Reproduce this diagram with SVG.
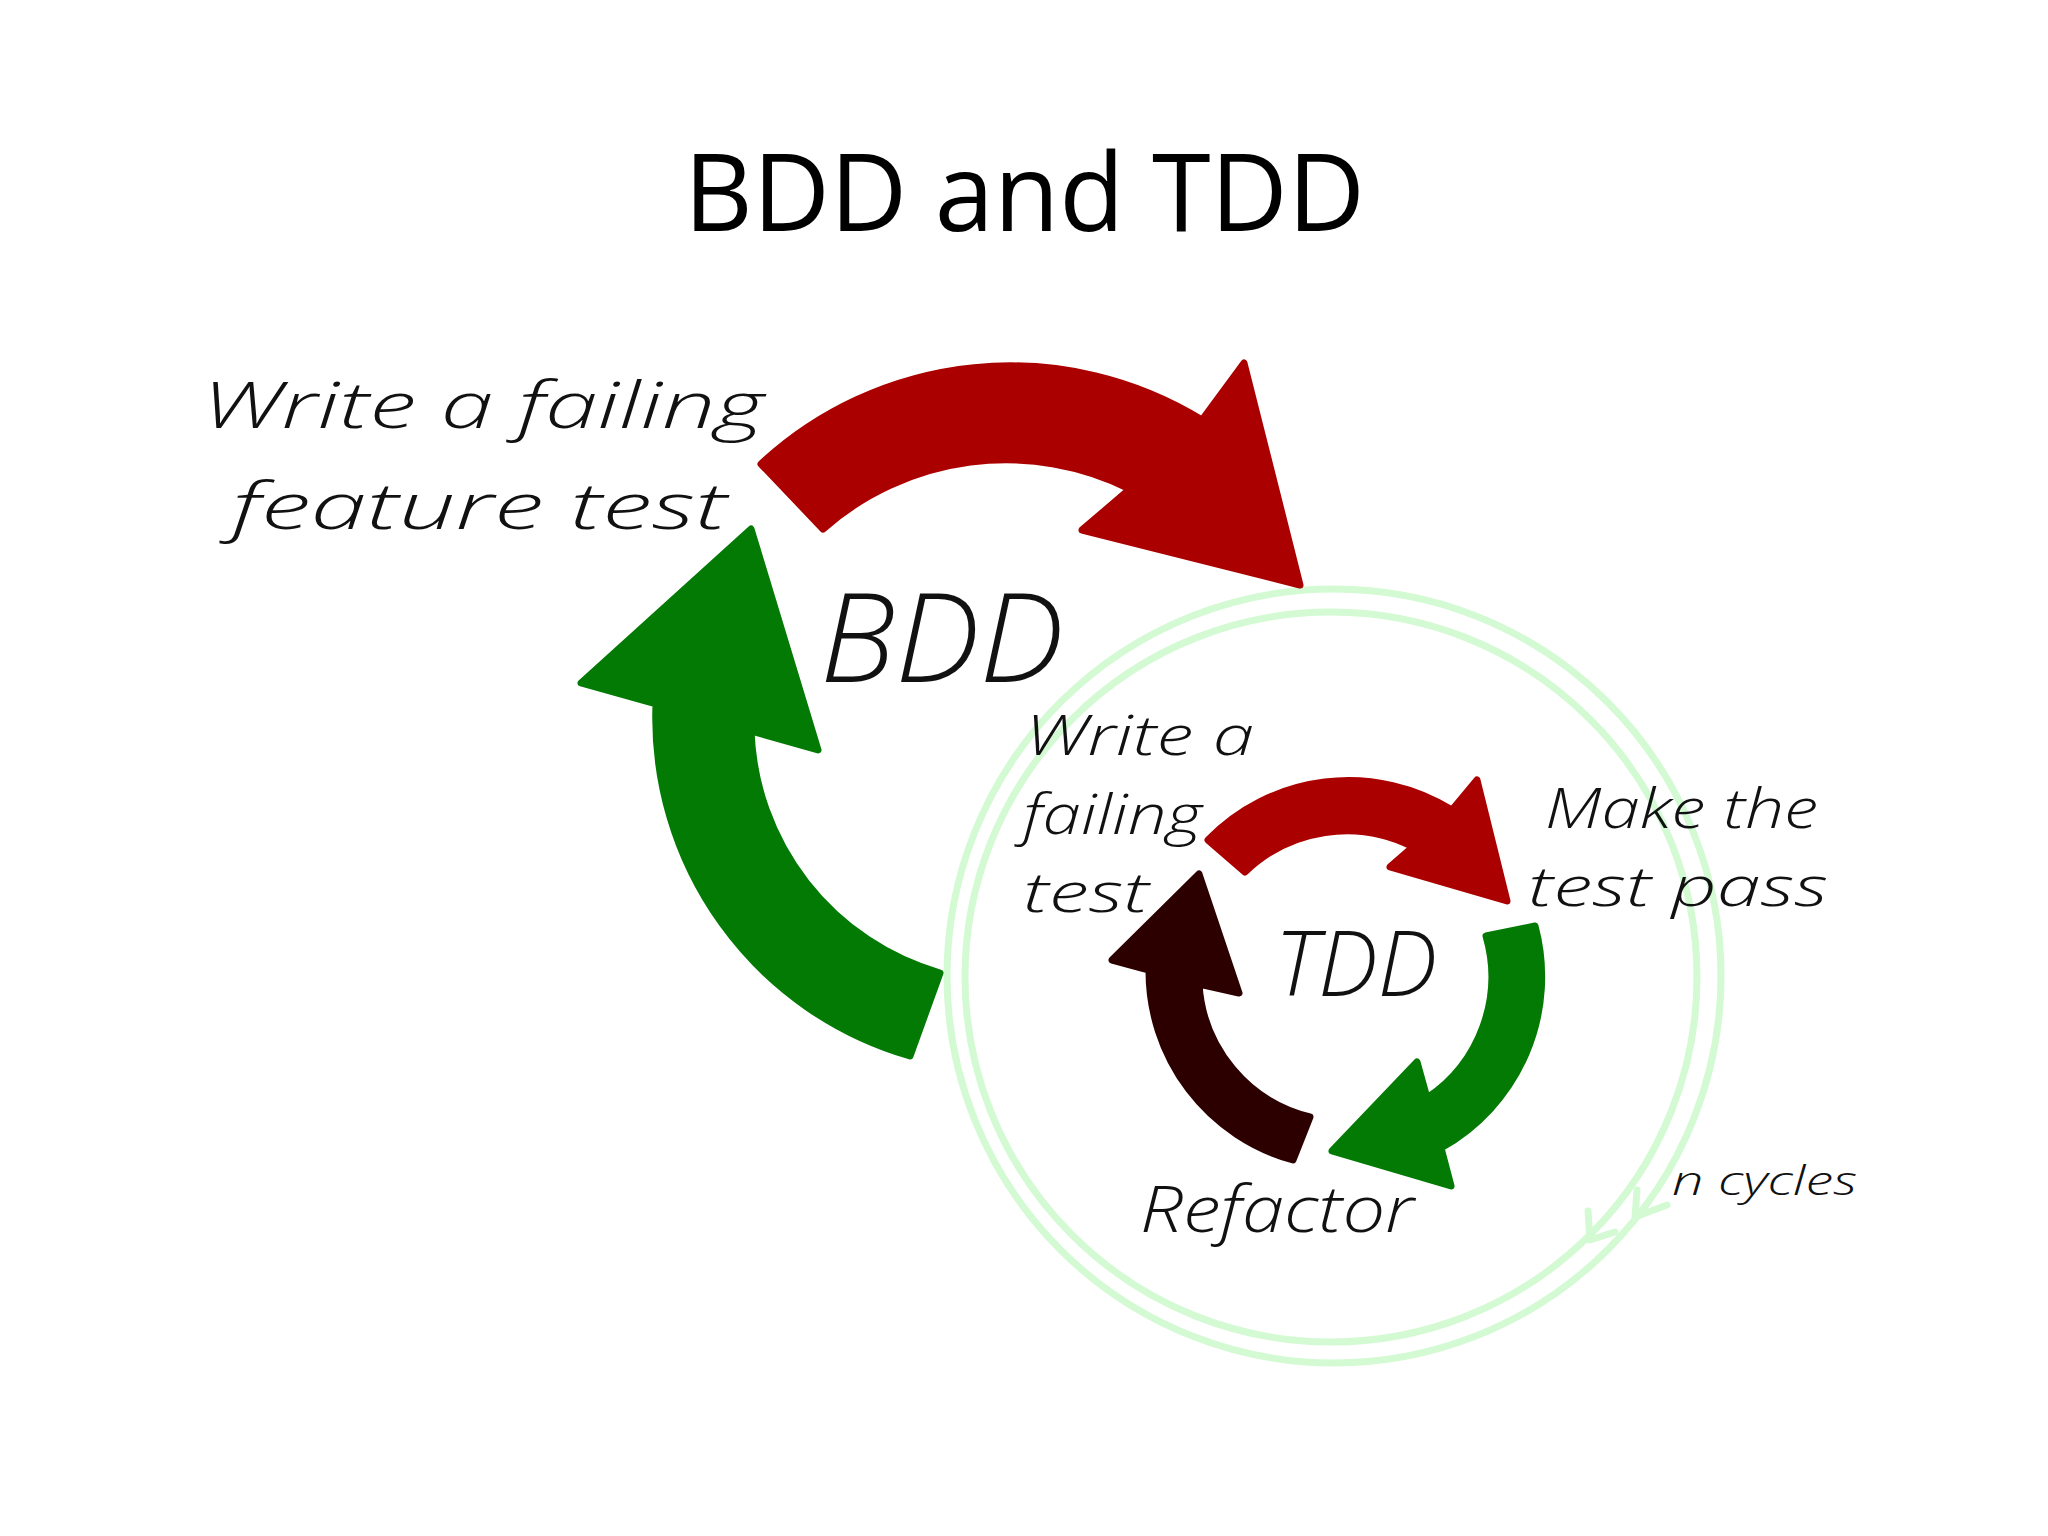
<svg xmlns="http://www.w3.org/2000/svg" width="2048" height="1536" viewBox="0 0 2048 1536">
  <style>
    .title { font-family: "Open Sans", "Liberation Sans", sans-serif; font-size: 108px; fill: #000; }
    .hand { font-family: "Open Sans", "DejaVu Sans", sans-serif; font-style: italic; font-weight: 300; fill: #111; }
    .red { fill: #aa0000; stroke: #aa0000; stroke-width: 7; stroke-linejoin: round; }
    .green { fill: #037a03; stroke: #037a03; stroke-width: 7; stroke-linejoin: round; }
    .brown { fill: #2d0000; stroke: #2d0000; stroke-width: 7; stroke-linejoin: round; }
    .ring { fill: none; stroke: #d3fad3; stroke-width: 7; stroke-linecap: round; stroke-linejoin: round; }
  </style>
  <rect width="2048" height="1536" fill="#ffffff"/>

  <g id="title">
    <text class="title" x="684" y="231" textLength="681" lengthAdjust="spacingAndGlyphs">BDD and TDD</text>
  </g>

  <g id="cycle-rings">
    <circle class="ring" cx="1334" cy="976" r="387"/>
    <ellipse class="ring" cx="1331" cy="977" rx="366" ry="365"/>
    <polyline class="ring" points="1588,1211 1590,1240 1615,1232"/>
    <polyline class="ring" points="1637,1190 1635,1217 1667,1205"/>
  </g>

  <g id="connectors">
    <g id="bdd-red-arrow">
      <path class="red" d="M 761 464 A 366 366 0 0 1 1202 420 L 1244 363 L 1300 585 L 1082 530 L 1130 489 A 277 277 0 0 0 823 529 Z"/>
    </g>
    <g id="bdd-green-arrow">
      <path class="green" d="M 910 1056 A 352 352 0 0 1 656 704 L 581 683 L 751 529 L 818 750 L 751 731 A 262 262 0 0 0 940 973 Z"/>
    </g>
    <g id="tdd-red-arrow">
      <path class="red" d="M 1208 840 A 196 196 0 0 1 1452 810 L 1477 780 L 1507 901 L 1390 867 L 1413 847 A 146 146 0 0 0 1245 872 Z"/>
    </g>
    <g id="tdd-green-arrow">
      <path class="green" d="M 1535 926 A 196 196 0 0 1 1441 1148 L 1451 1186 L 1332 1151 L 1417 1062 L 1427 1098 A 146 146 0 0 0 1486 936 Z"/>
    </g>
    <g id="tdd-brown-arrow">
      <path class="brown" d="M 1293 1160 A 196 196 0 0 1 1149 970 L 1112 960 L 1199 874 L 1239 993 L 1199 984 A 146 146 0 0 0 1310 1117 Z"/>
    </g>
  </g>

  <g id="node-write-feature-test">
    <text class="hand" font-size="64" x="202" y="428" textLength="562" lengthAdjust="spacingAndGlyphs">Write a failing</text>
    <text class="hand" font-size="64" x="232" y="529" textLength="495" lengthAdjust="spacingAndGlyphs">feature test</text>
  </g>
  <g id="node-bdd">
    <text class="hand" font-size="124" x="820" y="682" textLength="244" lengthAdjust="spacingAndGlyphs">BDD</text>
  </g>
  <g id="node-write-failing-test">
    <text class="hand" font-size="56" x="1025" y="755" textLength="229" lengthAdjust="spacingAndGlyphs">Write a</text>
    <text class="hand" font-size="56" x="1023" y="834" textLength="179" lengthAdjust="spacingAndGlyphs">failing</text>
    <text class="hand" font-size="56" x="1023" y="912" textLength="126" lengthAdjust="spacingAndGlyphs">test</text>
  </g>
  <g id="node-make-pass">
    <text class="hand" font-size="56" x="1545" y="828" textLength="273" lengthAdjust="spacingAndGlyphs">Make the</text>
    <text class="hand" font-size="56" x="1528" y="906" textLength="300" lengthAdjust="spacingAndGlyphs">test pass</text>
  </g>
  <g id="node-tdd">
    <text class="hand" font-size="90" x="1275" y="996" textLength="162" lengthAdjust="spacingAndGlyphs">TDD</text>
  </g>
  <g id="node-refactor">
    <text class="hand" font-size="64" x="1140" y="1232" textLength="274" lengthAdjust="spacingAndGlyphs">Refactor</text>
  </g>
  <g id="node-n-cycles">
    <text class="hand" font-size="40" x="1672" y="1195" textLength="185" lengthAdjust="spacingAndGlyphs">n cycles</text>
  </g>
</svg>
